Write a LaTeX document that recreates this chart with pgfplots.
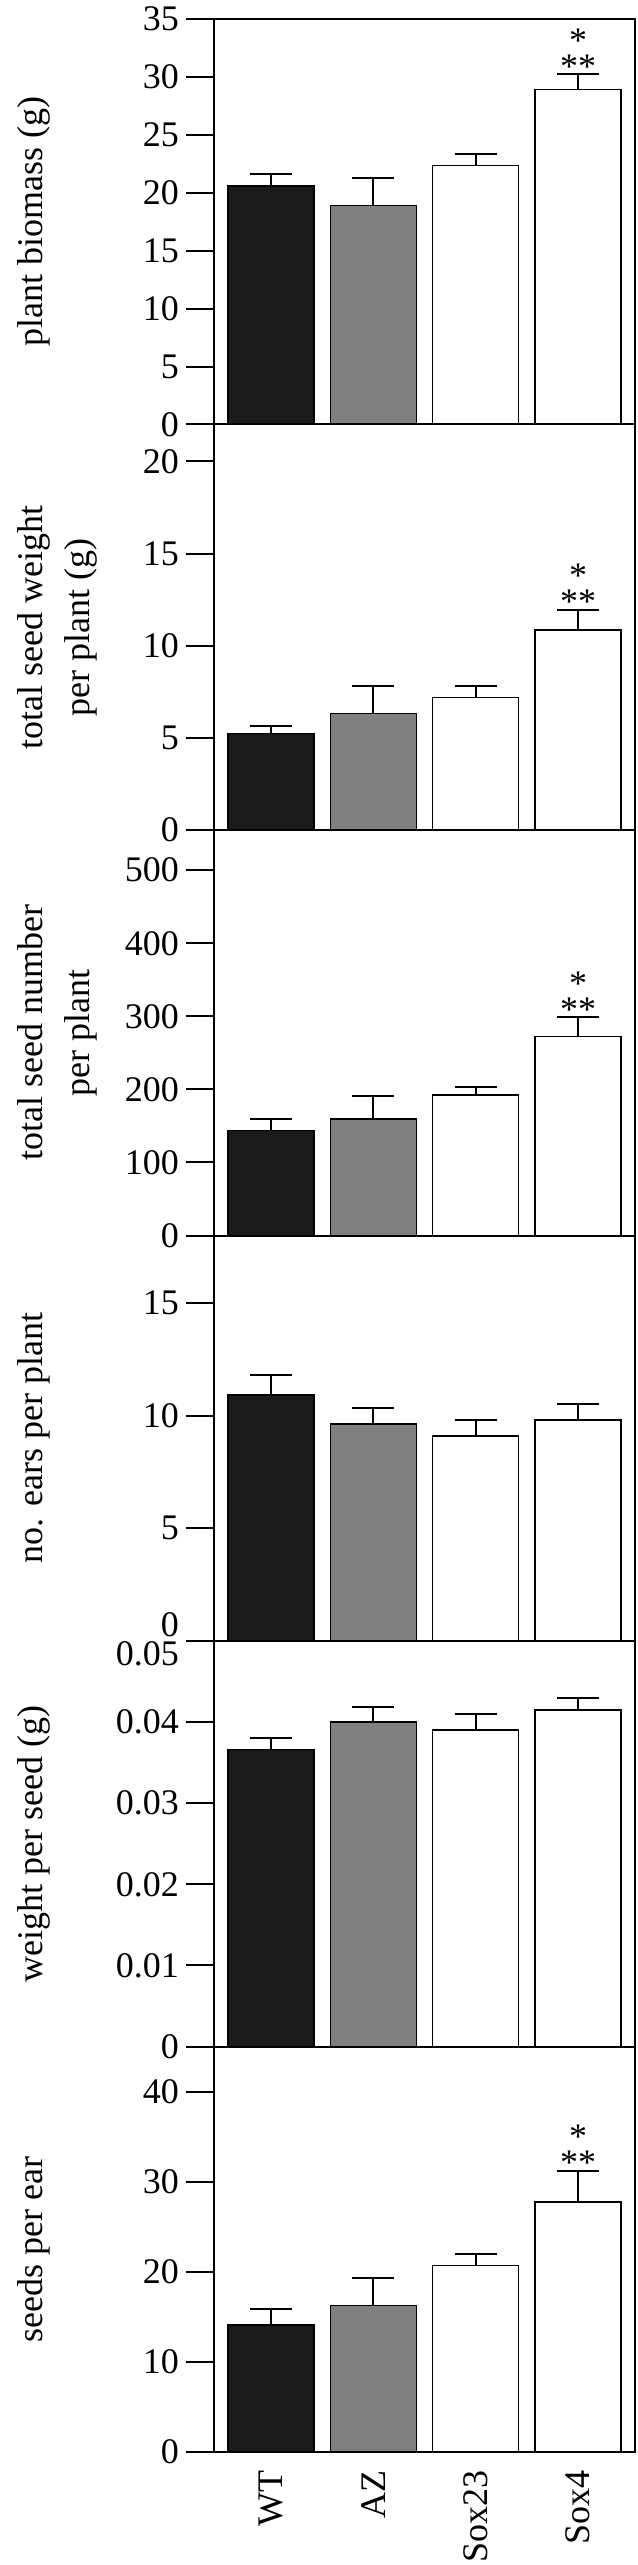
\documentclass[border=0pt]{standalone}
\usepackage{fontspec}
\setmainfont{Liberation Serif}
\usepackage{pgfplots}
\pgfplotsset{compat=1.18}
\usepgfplotslibrary{groupplots}
\usetikzlibrary{calc}
\definecolor{wtc}{HTML}{1A1A1A}
\definecolor{azc}{HTML}{808080}
\newcommand{\lbl}{\fontsize{18}{23.5}\selectfont}
\pgfplotsset{
  mybar/.style={fill=#1, draw=black, line width=0.75pt, bar width=0.84, bar shift=0pt,
    error bars/.cd, y dir=plus, y explicit,
    error bar style={line width=1pt, draw=black},
    error mark options={rotate=90, line width=1pt, draw=black, mark size=10.5pt}},
}
\begin{document}
\begin{tikzpicture}
\begin{groupplot}[
  group style={group size=1 by 6, vertical sep=0pt},
  width=210.5pt, height=202.75pt, scale only axis,
  ybar,
  xmin=-0.557, xmax=3.557, ymin=0,
  axis line style={line width=1pt},
  ytick pos=left, tick align=outside, major tick length=14pt,
  every tick/.style={line width=1pt, black},
  xtick=\empty,
  scaled y ticks=false,
  tick label style={font=\lbl},
  /pgf/number format/assume math mode=true,
  ylabel style={font=\lbl, align=center, at={(rel axis cs:0,0.5)}, anchor=north, yshift=101.75pt},
]
\nextgroupplot[ymax=35, ytick={0,5,...,35}, ylabel={plant biomass (g)}]
\addplot[mybar=wtc] coordinates {(0,20.6) +- (0,1.04)};
\addplot[mybar=azc] coordinates {(1,18.9) +- (0,2.4)};
\addplot[mybar=white] coordinates {(2,22.36) +- (0,1.0)};
\addplot[mybar=white] coordinates {(3,28.9) +- (0,1.33)};
\node[font=\lbl, anchor=base, inner sep=0pt, yshift=-2pt] at (axis cs:3,30.23) {**};
\node[font=\lbl, anchor=base, inner sep=0pt, yshift=11pt] at (axis cs:3,30.23) {*};

\nextgroupplot[ymax=22, ytick={0,5,10,15,20}, ylabel={total seed weight\\per plant (g)}]
\addplot[mybar=wtc] coordinates {(0,5.23) +- (0,0.43)};
\addplot[mybar=azc] coordinates {(1,6.32) +- (0,1.5)};
\addplot[mybar=white] coordinates {(2,7.19) +- (0,0.63)};
\addplot[mybar=white] coordinates {(3,10.85) +- (0,1.09)};
\node[font=\lbl, anchor=base, inner sep=0pt, yshift=-2pt] at (axis cs:3,11.94) {**};
\node[font=\lbl, anchor=base, inner sep=0pt, yshift=11pt] at (axis cs:3,11.94) {*};

\nextgroupplot[ymax=555, ytick={0,100,...,500}, ylabel={total seed number\\per plant}]
\addplot[mybar=wtc] coordinates {(0,143.7) +- (0,15.3)};
\addplot[mybar=azc] coordinates {(1,159.5) +- (0,32)};
\addplot[mybar=white] coordinates {(2,192) +- (0,11)};
\addplot[mybar=white] coordinates {(3,272.5) +- (0,26.5)};
\node[font=\lbl, anchor=base, inner sep=0pt, yshift=-2pt] at (axis cs:3,299) {**};
\node[font=\lbl, anchor=base, inner sep=0pt, yshift=11pt] at (axis cs:3,299) {*};

\nextgroupplot[ymax=18, ytick={5,10,15}, ylabel={no. ears per plant},
  extra y ticks={0}, extra y tick labels={0},
  extra y tick style={yticklabel style={yshift=8pt}}]
\addplot[mybar=wtc] coordinates {(0,10.91) +- (0,0.88)};
\addplot[mybar=azc] coordinates {(1,9.64) +- (0,0.72)};
\addplot[mybar=white] coordinates {(2,9.10) +- (0,0.72)};
\addplot[mybar=white] coordinates {(3,9.82) +- (0,0.72)};

\nextgroupplot[ymax=0.05, ytick={0,0.01,0.02,0.03,0.04}, yticklabels={0,0.01,0.02,0.03,0.04}, ylabel={weight per seed (g)},
  extra y ticks={0.05}, extra y tick labels={0.05},
  extra y tick style={yticklabel style={yshift=-6.5pt}}]
\addplot[mybar=wtc] coordinates {(0,0.0366) +- (0,0.0015)};
\addplot[mybar=azc] coordinates {(1,0.0400) +- (0,0.0019)};
\addplot[mybar=white] coordinates {(2,0.0390) +- (0,0.0020)};
\addplot[mybar=white] coordinates {(3,0.0415) +- (0,0.0015)};

\nextgroupplot[ymax=45, ytick={0,10,...,40}, ylabel={seeds per ear},
  xtick={0,1,2,3}, xticklabels={WT,AZ,Sox23,Sox4}, xtick style={draw=none},
  xticklabel shift=-5pt,
  xticklabel style={rotate=90, anchor=east, inner sep=0pt}]
\addplot[mybar=wtc] coordinates {(0,14.1) +- (0,1.76)};
\addplot[mybar=azc] coordinates {(1,16.28) +- (0,3.0)};
\addplot[mybar=white] coordinates {(2,20.69) +- (0,1.3)};
\addplot[mybar=white] coordinates {(3,27.74) +- (0,3.45)};
\node[font=\lbl, anchor=base, inner sep=0pt, yshift=-2pt] at (axis cs:3,31.19) {**};
\node[font=\lbl, anchor=base, inner sep=0pt, yshift=11pt] at (axis cs:3,31.19) {*};
\end{groupplot}
\pgfresetboundingbox
\path ($(group c1r1.north west)+(-107pt,9.5pt)$) rectangle ($(group c1r6.south east)+(1pt,-56.5pt)$);
\end{tikzpicture}
\end{document}
